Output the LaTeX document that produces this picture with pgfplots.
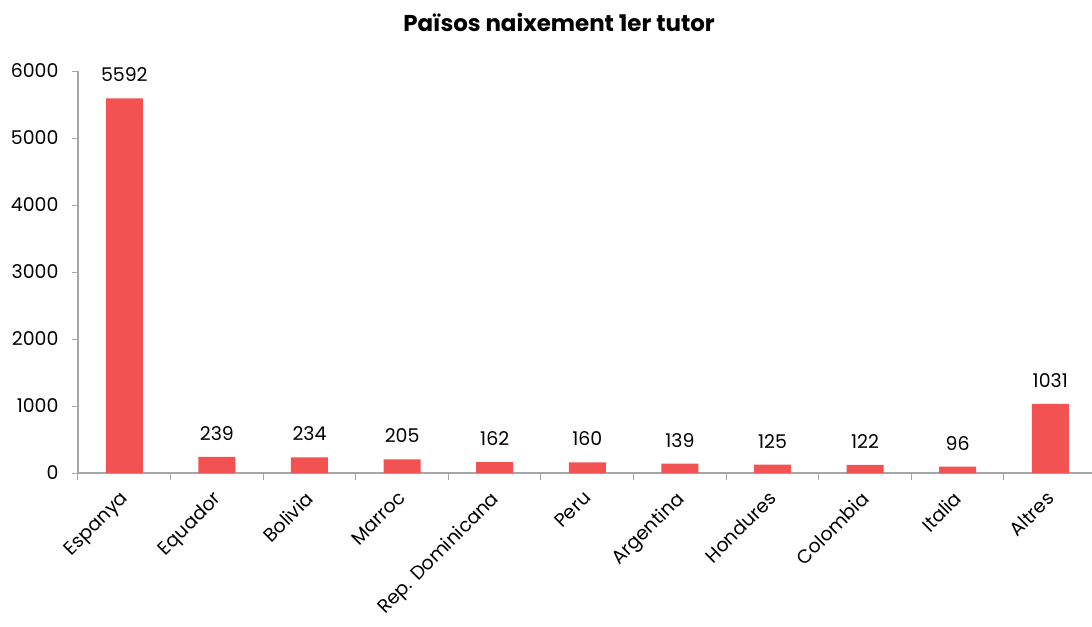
\documentclass[border=0pt]{standalone}
\usepackage{pgfplots}
\pgfplotsset{compat=1.18}
\usepackage{fontspec}
\setmainfont{Poppins}
\definecolor{barred}{HTML}{F35252}
\definecolor{axgray}{HTML}{A6A6A6}
\pgfplotstableread{
x y
0 5592
1 239
2 234
3 205
4 162
5 160
6 139
7 125
8 122
9 96
10 1031
}\datatable
\begin{document}
\begin{tikzpicture}
\useasboundingbox (-78bp,-154bp) rectangle (1014bp,473bp);
\begin{axis}[
 at={(0,0)}, anchor=south west,
 scale only axis, width=1018.6bp, height=402bp,
 xmin=-0.5, xmax=10.5, ymin=0, ymax=6000,
 axis x line*=bottom, axis y line*=left,
 axis line style={axgray, line width=1.2bp},
 /pgf/number format/.cd, 1000 sep={}, assume math mode=true, /pgfplots/.cd,
 scaled y ticks=false,
 ytick={0,1000,...,6000},
 xtick={0,...,10},
 xticklabels={Espanya,Equador,Bolivia,Marroc,Rep. Dominicana,Peru,Argentina,Hondures,Colombia,Italia,Altres},
 minor xtick={-0.5,0.5,...,10.5},
 tick align=outside,
 major tick length=6bp, minor tick length=7bp,
 tick style={axgray, line width=1bp},
 every major x tick/.append style={draw=none},
 ticklabel style={font=\fontsize{19}{22}\selectfont, text=black},
 xticklabel style={xshift=-5bp, yshift=-6bp, rotate=45, anchor=north east},
 yticklabel style={xshift=-10bp},
 ybar, bar width=37bp,
 nodes near coords,
 every node near coord/.append style={font=\fontsize{19}{22}\selectfont, text=black, yshift=13bp},
]
\addplot[fill=barred, draw=none] table[x=x, y=y] {\datatable};
\end{axis}
\node[font=\bfseries\fontsize{23}{27}\selectfont] at (481bp,451bp) {Països naixement 1er tutor};
\end{tikzpicture}
\end{document}
